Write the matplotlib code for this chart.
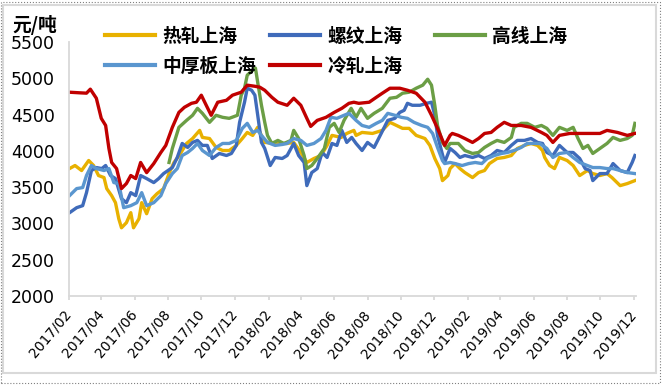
import pandas as pd
import matplotlib
matplotlib.use('Agg')
import matplotlib.pyplot as plt
import matplotlib.dates as mdates
from matplotlib.patches import Rectangle

# 热轧上海
hot_dates = ['2017-02-02', '2017-02-12', '2017-02-24', '2017-03-09', '2017-03-18', '2017-03-27',
             '2017-04-06', '2017-04-11', '2017-04-20', '2017-04-27', '2017-05-03', '2017-05-08',
             '2017-05-17', '2017-05-25', '2017-05-30', '2017-06-09', '2017-06-14', '2017-06-23',
             '2017-07-03', '2017-07-12', '2017-07-24', '2017-08-03', '2017-08-12', '2017-08-21',
             '2017-09-04', '2017-09-15', '2017-09-28', '2017-10-03', '2017-10-16', '2017-10-28',
             '2017-11-09', '2017-11-21', '2017-12-04', '2017-12-15', '2017-12-24', '2018-01-03',
             '2018-01-12', '2018-01-25', '2018-02-13', '2018-03-07', '2018-03-19', '2018-04-01',
             '2018-04-12', '2018-04-25', '2018-05-08', '2018-05-19', '2018-05-28', '2018-06-14',
             '2018-06-24', '2018-07-07', '2018-07-11', '2018-07-22', '2018-08-10', '2018-08-28',
             '2018-09-11', '2018-09-23', '2018-10-04', '2018-10-16', '2018-10-29', '2018-11-14',
             '2018-11-23', '2018-12-02', '2018-12-11', '2018-12-16', '2018-12-20', '2018-12-26',
             '2018-12-30', '2019-01-08', '2019-01-17', '2019-01-26', '2019-02-09', '2019-02-20',
             '2019-03-03', '2019-03-12', '2019-03-26', '2019-04-08', '2019-04-21', '2019-05-02',
             '2019-05-15', '2019-05-27', '2019-06-08', '2019-06-17', '2019-06-21', '2019-06-30',
             '2019-07-09', '2019-07-18', '2019-08-01', '2019-08-12', '2019-08-24', '2019-09-07',
             '2019-09-17', '2019-09-30', '2019-10-13', '2019-10-22', '2019-11-06', '2019-11-19',
             '2019-12-03']
hot_vals = [3756, 3798, 3729, 3867, 3798, 3660,
            3632, 3480, 3383, 3286, 3065, 2940,
            3010, 3148, 2940, 3065, 3286, 3134,
            3341, 3410, 3480, 3690, 3840, 3930,
            4102, 4170, 4282, 4185, 4170, 4047,
            4005, 4005, 4075, 4170, 4254, 4213,
            4324, 4116, 4102, 4102, 4116, 3978,
            3840, 3895, 3936, 4075, 4213, 4185,
            4240, 4282, 4213, 4254, 4240, 4282,
            4393, 4350, 4310, 4310, 4213, 4170,
            4075, 3895, 3756, 3590, 3618, 3660,
            3756, 3825, 3756, 3701, 3632, 3701,
            3729, 3825, 3895, 3909, 3936, 4033,
            4075, 4102, 4075, 4005, 3909, 3798,
            3756, 3909, 3867, 3798, 3660, 3729,
            3687, 3660, 3687, 3632, 3521, 3549,
            3590]

# 螺纹上海
rebar_dates = ['2017-02-02', '2017-02-15', '2017-02-26', '2017-03-05', '2017-03-14', '2017-03-23',
               '2017-04-02', '2017-04-09', '2017-04-18', '2017-04-27', '2017-05-08', '2017-05-17',
               '2017-05-25', '2017-06-03', '2017-06-12', '2017-06-23', '2017-07-06', '2017-07-15',
               '2017-07-24', '2017-08-09', '2017-08-18', '2017-08-27', '2017-09-06', '2017-09-15',
               '2017-09-24', '2017-10-03', '2017-10-12', '2017-10-21', '2017-11-03', '2017-11-16',
               '2017-11-25', '2017-12-04', '2017-12-10', '2017-12-19', '2017-12-24', '2018-01-01',
               '2018-01-07', '2018-01-12', '2018-01-19', '2018-01-25', '2018-02-04', '2018-02-13',
               '2018-02-26', '2018-03-07', '2018-03-19', '2018-03-28', '2018-04-07', '2018-04-12',
               '2018-04-21', '2018-05-01', '2018-05-10', '2018-05-19', '2018-05-28', '2018-06-06',
               '2018-06-15', '2018-06-24', '2018-07-03', '2018-07-11', '2018-07-22', '2018-08-01',
               '2018-08-13', '2018-08-26', '2018-09-07', '2018-09-20', '2018-09-29', '2018-10-07',
               '2018-10-13', '2018-10-22', '2018-11-05', '2018-11-17', '2018-11-26', '2018-12-02',
               '2018-12-07', '2018-12-15', '2018-12-20', '2018-12-30', '2019-01-08', '2019-01-17',
               '2019-01-26', '2019-02-09', '2019-02-20', '2019-03-03', '2019-03-15', '2019-03-26',
               '2019-04-08', '2019-04-21', '2019-05-02', '2019-05-15', '2019-05-27', '2019-06-08',
               '2019-06-17', '2019-06-25', '2019-07-06', '2019-07-18', '2019-08-01', '2019-08-12',
               '2019-08-24', '2019-09-03', '2019-09-12', '2019-09-17', '2019-09-30', '2019-10-13',
               '2019-10-24', '2019-11-06', '2019-11-19', '2019-11-28', '2019-12-03']
rebar_vals = [3148, 3217, 3245, 3424, 3729, 3770,
              3756, 3798, 3660, 3618, 3341, 3286,
              3424, 3383, 3660, 3618, 3563, 3618,
              3687, 3770, 3909, 4102, 4047, 4116,
              4144, 4075, 4075, 3895, 3964, 3936,
              3964, 4075, 4393, 4670, 4863, 4835,
              4767, 4500, 4116, 4033, 3798, 3909,
              3895, 3936, 4102, 3936, 3840, 3521,
              3701, 3756, 3978, 3909, 4102, 4075,
              4282, 4116, 4185, 4102, 4005, 4116,
              4047, 4240, 4420, 4448, 4530, 4559,
              4655, 4628, 4628, 4655, 4670, 4490,
              4213, 3978, 3840, 4033, 3978, 3909,
              3936, 3909, 3936, 3895, 3936, 4005,
              3978, 4075, 4144, 4144, 4170, 4116,
              4102, 3978, 3936, 4075, 3978, 3978,
              3895, 3756, 3729, 3590, 3687, 3687,
              3825, 3729, 3701, 3840, 3936]

# 高线上海
wire_dates = ['2017-08-03', '2017-08-09', '2017-08-21', '2017-09-04', '2017-09-15', '2017-09-24',
              '2017-10-03', '2017-10-16', '2017-10-28', '2017-11-09', '2017-11-21', '2017-12-06',
              '2017-12-13', '2017-12-19', '2017-12-24', '2018-01-03', '2018-01-08', '2018-01-12',
              '2018-01-19', '2018-01-25', '2018-01-30', '2018-02-07', '2018-02-18', '2018-03-01',
              '2018-03-14', '2018-03-19', '2018-03-28', '2018-04-07', '2018-04-12', '2018-04-21',
              '2018-05-01', '2018-05-14', '2018-05-23', '2018-06-01', '2018-06-10', '2018-06-19',
              '2018-07-02', '2018-07-11', '2018-07-20', '2018-08-01', '2018-08-13', '2018-08-28',
              '2018-09-11', '2018-09-23', '2018-10-04', '2018-10-16', '2018-10-29', '2018-11-10',
              '2018-11-19', '2018-11-26', '2018-12-02', '2018-12-07', '2018-12-16', '2018-12-24',
              '2018-12-30', '2019-01-14', '2019-01-26', '2019-02-09', '2019-02-20', '2019-03-03',
              '2019-03-15', '2019-03-26', '2019-04-08', '2019-04-21', '2019-04-26', '2019-05-09',
              '2019-05-20', '2019-06-03', '2019-06-15', '2019-06-25', '2019-07-06', '2019-07-18',
              '2019-08-01', '2019-08-12', '2019-08-21', '2019-08-30', '2019-09-08', '2019-09-17',
              '2019-09-30', '2019-10-13', '2019-10-24', '2019-11-06', '2019-11-19', '2019-11-28',
              '2019-12-03']
wire_vals = [3840, 4033, 4324, 4420, 4490, 4586,
             4517, 4393, 4490, 4462, 4448, 4490,
             4767, 4863, 5043, 5112, 5140, 4950,
             4628, 4393, 4213, 4102, 4144, 4102,
             4144, 4282, 4170, 3936, 3756, 3798,
             3895, 4033, 4324, 4379, 4254, 4420,
             4586, 4462, 4586, 4448, 4517, 4586,
             4725, 4738, 4794, 4808, 4863, 4905,
             4987, 4905, 4628, 4350, 4116, 4033,
             4102, 4102, 4005, 3964, 3978, 4047,
             4102, 4144, 4116, 4185, 4324, 4379,
             4379, 4324, 4350, 4310, 4213, 4324,
             4282, 4324, 4170, 4033, 4075, 3964,
             4033, 4102, 4185, 4144, 4170, 4213,
             4379]

# 中厚板上海
plate_dates = ['2017-02-02', '2017-02-15', '2017-02-26', '2017-03-05', '2017-03-14', '2017-03-23',
               '2017-04-06', '2017-04-15', '2017-04-24', '2017-05-03', '2017-05-12', '2017-05-25',
               '2017-06-05', '2017-06-14', '2017-06-23', '2017-07-06', '2017-07-19', '2017-07-28',
               '2017-08-09', '2017-08-18', '2017-08-27', '2017-09-06', '2017-09-15', '2017-09-24',
               '2017-10-03', '2017-10-16', '2017-10-28', '2017-11-09', '2017-11-21', '2017-12-04',
               '2017-12-15', '2017-12-24', '2018-01-03', '2018-01-12', '2018-01-19', '2018-01-30',
               '2018-02-13', '2018-02-26', '2018-03-07', '2018-03-19', '2018-04-01', '2018-04-12',
               '2018-04-25', '2018-05-08', '2018-05-17', '2018-05-26', '2018-06-06', '2018-06-19',
               '2018-06-28', '2018-07-11', '2018-07-22', '2018-08-04', '2018-08-17', '2018-08-28',
               '2018-09-07', '2018-09-20', '2018-10-02', '2018-10-13', '2018-10-25', '2018-11-08',
               '2018-11-19', '2018-11-28', '2018-12-07', '2018-12-16', '2018-12-20', '2018-12-30',
               '2019-01-08', '2019-01-21', '2019-02-02', '2019-02-14', '2019-02-26', '2019-03-08',
               '2019-03-21', '2019-04-03', '2019-04-14', '2019-04-26', '2019-05-09', '2019-05-20',
               '2019-06-03', '2019-06-12', '2019-06-25', '2019-07-06', '2019-07-18', '2019-08-01',
               '2019-08-12', '2019-08-24', '2019-09-07', '2019-09-17', '2019-09-30', '2019-10-13',
               '2019-10-24', '2019-11-06', '2019-11-19', '2019-12-03']
plate_vals = [3383, 3480, 3494, 3660, 3798, 3756,
              3729, 3756, 3563, 3549, 3217, 3245,
              3286, 3424, 3245, 3286, 3383, 3549,
              3687, 3756, 3936, 3978, 4033, 4102,
              4005, 3936, 4047, 4102, 4102, 4144,
              4310, 4379, 4254, 4282, 4213, 4116,
              4075, 4088, 4102, 4170, 4144, 4075,
              4102, 4170, 4282, 4462, 4448, 4490,
              4517, 4420, 4350, 4324, 4379, 4420,
              4517, 4490, 4462, 4448, 4393, 4350,
              4324, 4240, 4047, 3867, 3825, 3840,
              3825, 3798, 3825, 3840, 3825, 3895,
              3936, 3964, 3978, 4005, 4047, 4102,
              4102, 4102, 4033, 3909, 3964, 3978,
              3909, 3840, 3798, 3770, 3770, 3756,
              3756, 3729, 3701, 3687]

# 冷轧上海
cold_dates = ['2017-02-02', '2017-02-20', '2017-03-05', '2017-03-12', '2017-03-23', '2017-04-01',
              '2017-04-09', '2017-04-15', '2017-04-20', '2017-04-29', '2017-05-08', '2017-05-17',
              '2017-05-25', '2017-06-03', '2017-06-12', '2017-06-23', '2017-07-06', '2017-07-19',
              '2017-07-28', '2017-08-09', '2017-08-21', '2017-08-31', '2017-09-13', '2017-09-22',
              '2017-10-01', '2017-10-10', '2017-10-19', '2017-10-31', '2017-11-16', '2017-11-27',
              '2017-12-13', '2017-12-24', '2018-01-07', '2018-01-16', '2018-01-25', '2018-02-07',
              '2018-02-18', '2018-03-07', '2018-03-19', '2018-04-01', '2018-04-12', '2018-04-19',
              '2018-05-01', '2018-05-17', '2018-06-01', '2018-06-15', '2018-06-28', '2018-07-07',
              '2018-07-16', '2018-08-04', '2018-08-17', '2018-08-28', '2018-09-11', '2018-09-29',
              '2018-10-13', '2018-10-29', '2018-11-14', '2018-11-26', '2018-12-07', '2018-12-20',
              '2018-12-30', '2019-01-03', '2019-01-14', '2019-01-26', '2019-02-09', '2019-02-20',
              '2019-03-03', '2019-03-15', '2019-03-26', '2019-04-08', '2019-04-21', '2019-05-09',
              '2019-05-27', '2019-06-15', '2019-06-25', '2019-07-06', '2019-07-18', '2019-08-06',
              '2019-08-24', '2019-09-12', '2019-09-30', '2019-10-13', '2019-11-01', '2019-11-19',
              '2019-12-03']
cold_vals = [4808, 4800, 4795, 4850, 4725, 4448,
             4350, 4033, 3840, 3756, 3480, 3550,
             3660, 3618, 3840, 3700, 3825, 3978,
             4075, 4324, 4530, 4600, 4655, 4670,
             4767, 4628, 4490, 4670, 4697, 4767,
             4808, 4905, 4890, 4877, 4835, 4738,
             4670, 4628, 4725, 4628, 4448, 4337,
             4420, 4462, 4530, 4586, 4655, 4670,
             4655, 4670, 4738, 4794, 4863, 4863,
             4835, 4794, 4670, 4490, 4310, 4075,
             4213, 4240, 4213, 4170, 4116, 4170,
             4240, 4254, 4324, 4393, 4350, 4350,
             4324, 4254, 4213, 4116, 4213, 4240,
             4240, 4240, 4240, 4282, 4254, 4213,
             4240]

names = ['热轧上海', '螺纹上海', '高线上海', '中厚板上海', '冷轧上海']
colors = ['#E8B100', '#3F6BBA', '#6B9E45', '#5A96CF', '#C00000']
y_ticks = [2000, 2500, 3000, 3500, 4000, 4500, 5000, 5500]

CJK = ['Noto Sans CJK SC', 'DejaVu Sans']
W, H = 662, 386


def main():
    plt.rcParams['font.family'] = ['DejaVu Sans']
    fig = plt.figure(figsize=(W / 100, H / 100), dpi=100)
    ax = fig.add_axes([69 / W, 1 - 296 / H, (636 - 69) / W, (296 - 42) / H])

    all_dates = [hot_dates, rebar_dates, wire_dates, plate_dates, cold_dates]
    all_vals = [hot_vals, rebar_vals, wire_vals, plate_vals, cold_vals]
    handles = []
    for name, dates, vals, color in zip(names, all_dates, all_vals, colors):
        line, = ax.plot(pd.to_datetime(dates), vals, color=color, lw=2.4,
                        solid_joinstyle='round', label=name)
        handles.append(line)

    ax.set_ylim(y_ticks[0], y_ticks[-1])
    ax.set_yticks(y_ticks)
    ax.set_xlim(pd.Timestamp('2017-02-01'), pd.Timestamp('2019-12-05'))
    ax.xaxis.set_major_locator(mdates.MonthLocator(bymonth=[2, 4, 6, 8, 10, 12]))
    ax.xaxis.set_major_formatter(mdates.DateFormatter('%Y/%m'))

    for side in ('top', 'right'):
        ax.spines[side].set_visible(False)
    for side in ('left', 'bottom'):
        ax.spines[side].set_color('#d9d9d9')
        ax.spines[side].set_linewidth(1.3)
    ax.tick_params(axis='y', length=0, pad=10, labelsize=12.5)
    ax.tick_params(axis='x', length=3, color='#d9d9d9', width=1.3,
                   pad=8.5, labelsize=10)
    for lbl in ax.get_xticklabels():
        lbl.set_rotation(50)
        lbl.set_ha('right')
        lbl.set_va('center')
        lbl.set_rotation_mode('anchor')

    # legend laid out in three fixed-width columns like the original
    col_x = [105, 270, 435]
    cols = [[0, 3], [1, 4], [2]]
    for cx, idx in zip(col_x, cols):
        leg = fig.legend([handles[i] for i in idx], [names[i] for i in idx],
                         loc='upper left', bbox_to_anchor=(cx / W, 1 - 27 / H),
                         frameon=False, borderpad=0, borderaxespad=0,
                         handlelength=2.65, handletextpad=0.4, labelspacing=0.56,
                         prop={'family': CJK, 'weight': 'bold', 'size': 13.5})
        for ln in leg.get_lines():
            ln.set_linewidth(3)

    fig.text(12 / W, 1 - 25 / H, '元/吨', family=CJK, weight='bold',
             fontsize=13.5, va='center', ha='left')

    # chart frame
    fig.patches.append(Rectangle((3 / W, 13 / H), 653 / W, 368 / H,
                                 transform=fig.transFigure, fill=False,
                                 edgecolor='#d9d9d9', lw=1.5))
    fig.patches.append(Rectangle((1 / W, 3 / H), 659 / W, 381 / H,
                                 transform=fig.transFigure, fill=False,
                                 edgecolor='#808080', lw=0.8, ls=':'))

    fig.savefig('out.png', dpi=100)


if __name__ == '__main__':
    main()
